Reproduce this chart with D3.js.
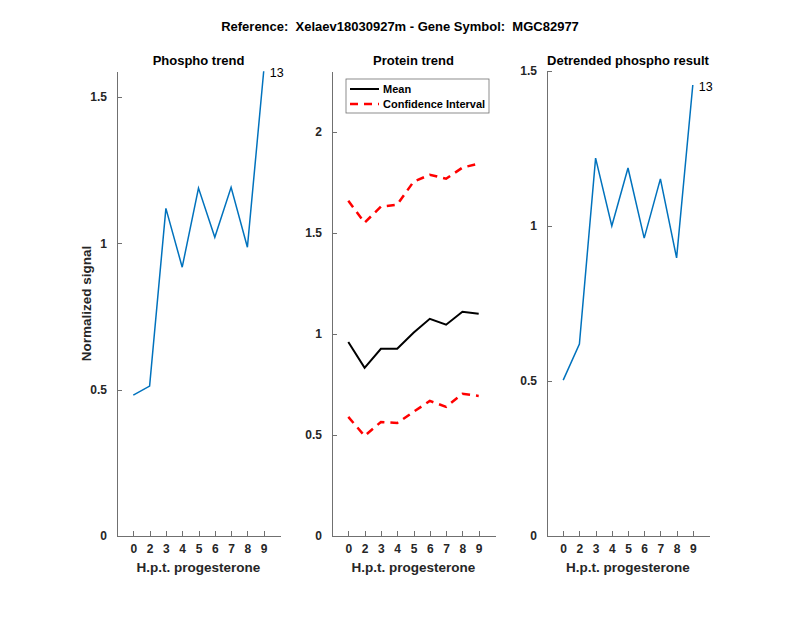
<!DOCTYPE html>
<meta charset="utf-8">
<script src="https://d3js.org/d3.v7.min.js"></script>
<style>
    body { margin: 0; background: #fff; }
    svg { font-family: "Liberation Sans", Arial, sans-serif; }
    .axis path, .axis line { stroke: #707070; stroke-width: 1; shape-rendering: crispEdges; }
    .axis text { fill: #262626; font-size: 12px; font-weight: bold; }
    .ttl { font-size: 13px; font-weight: bold; fill: #000; }
    .lbl { font-size: 13.5px; font-weight: bold; fill: #262626; }
</style>
<body></body>
<script>

var hours = ["0", "2", "3", "4", "5", "6", "7", "8", "9"];

var phospho = [0.481, 0.512, 1.119, 0.918, 1.188, 1.020, 1.191, 0.986, 1.587];
var proteinMean = [0.960, 0.832, 0.926, 0.926, 1.005, 1.074, 1.045, 1.109, 1.099];
var ciLower = [0.589, 0.495, 0.564, 0.559, 0.614, 0.668, 0.639, 0.703, 0.693];
var ciUpper = [1.658, 1.550, 1.629, 1.639, 1.752, 1.787, 1.767, 1.822, 1.842];
var detrended = [0.503, 0.619, 1.219, 1.000, 1.187, 0.961, 1.152, 0.897, 1.455];

var pointLabel = "13";

var width = 800, height = 618;
var yTop = 71, yBottom = 536;

var svg = d3.select("body").append("svg")
    .attr("width", width)
    .attr("height", height);

svg.append("text")
    .attr("class", "ttl")
    .attr("x", 400).attr("y", 31)
    .attr("text-anchor", "middle")
    .attr("xml:space", "preserve")
    .text("Reference:  Xelaev18030927m - Gene Symbol:  MGC82977");

function panel(left, right, ymax, yticks, title) {
    var x = d3.scaleLinear().domain([0, 10]).range([left, right]);
    var y = d3.scaleLinear().domain([0, ymax]).range([yBottom, yTop]);

    var xAxis = d3.axisBottom(x)
        .tickValues(d3.range(1, 10))
        .tickFormat(function (d) { return hours[d - 1]; })
        .tickSizeInner(-5).tickSizeOuter(0).tickPadding(8);
    var yAxis = d3.axisLeft(y)
        .tickValues(yticks)
        .tickFormat(d3.format("~g"))
        .tickSizeInner(-5).tickSizeOuter(0).tickPadding(10);

    svg.append("g")
        .attr("class", "axis")
        .attr("transform", "translate(0," + yBottom + ")")
        .call(xAxis);
    svg.append("g")
        .attr("class", "axis")
        .attr("transform", "translate(" + left + ",0)")
        .call(yAxis);

    svg.append("text")
        .attr("class", "ttl")
        .attr("x", (left + right) / 2).attr("y", 65)
        .attr("text-anchor", "middle")
        .text(title);
    svg.append("text")
        .attr("class", "lbl")
        .attr("x", (left + right) / 2).attr("y", 572)
        .attr("text-anchor", "middle")
        .text("H.p.t. progesterone");

    return { x: x, y: y };
}

function drawLine(p, values, color, w, dash) {
    var line = d3.line()
        .x(function (d, i) { return p.x(i + 1); })
        .y(function (d) { return p.y(d); });
    svg.append("path")
        .attr("d", line(values))
        .attr("fill", "none")
        .attr("stroke", color)
        .attr("stroke-width", w)
        .attr("stroke-dasharray", dash || null);
}

// panel 1
var p1 = panel(117, 280, 1.588, [0, 0.5, 1, 1.5], "Phospho trend");
drawLine(p1, phospho, "#0072BD", 1.5);
svg.append("text")
    .attr("x", p1.x(9) + 6).attr("y", p1.y(phospho[8]) + 6)
    .style("font-size", "12.5px").attr("fill", "#000")
    .text(pointLabel);
svg.append("text")
    .attr("class", "lbl")
    .attr("transform", "translate(91," + (yTop + yBottom) / 2 + ") rotate(-90)")
    .attr("text-anchor", "middle")
    .text("Normalized signal");

// panel 2
var p2 = panel(332, 495, 2.3, [0, 0.5, 1, 1.5, 2], "Protein trend");
drawLine(p2, ciUpper, "#FF0000", 2.5, "8,6");
drawLine(p2, ciLower, "#FF0000", 2.5, "8,6");
drawLine(p2, proteinMean, "#000", 2);

var lg = svg.append("g").attr("transform", "translate(346,79)");
lg.append("rect")
    .attr("width", 143).attr("height", 34)
    .attr("fill", "#fff").attr("stroke", "#707070").attr("stroke-width", 0.8);
var legendItems = [
    { name: "Mean", color: "#000", w: 2, dash: null },
    { name: "Confidence Interval", color: "#FF0000", w: 2.5, dash: "8,6" }
];
legendItems.forEach(function (d, i) {
    var yy = 10 + i * 15;
    lg.append("line")
        .attr("x1", 4).attr("x2", 33).attr("y1", yy).attr("y2", yy)
        .attr("stroke", d.color).attr("stroke-width", d.w)
        .attr("stroke-dasharray", d.dash);
    lg.append("text")
        .attr("x", 37).attr("y", yy + 4)
        .style("font-size", "11px").style("font-weight", "bold").attr("fill", "#000")
        .text(d.name);
});

// panel 3
var p3 = panel(547, 709, 1.5, [0, 0.5, 1, 1.5], "Detrended phospho result");
drawLine(p3, detrended, "#0072BD", 1.5);
svg.append("text")
    .attr("x", p3.x(9) + 6).attr("y", p3.y(detrended[8]) + 6)
    .style("font-size", "12.5px").attr("fill", "#000")
    .text(pointLabel);

</script>
